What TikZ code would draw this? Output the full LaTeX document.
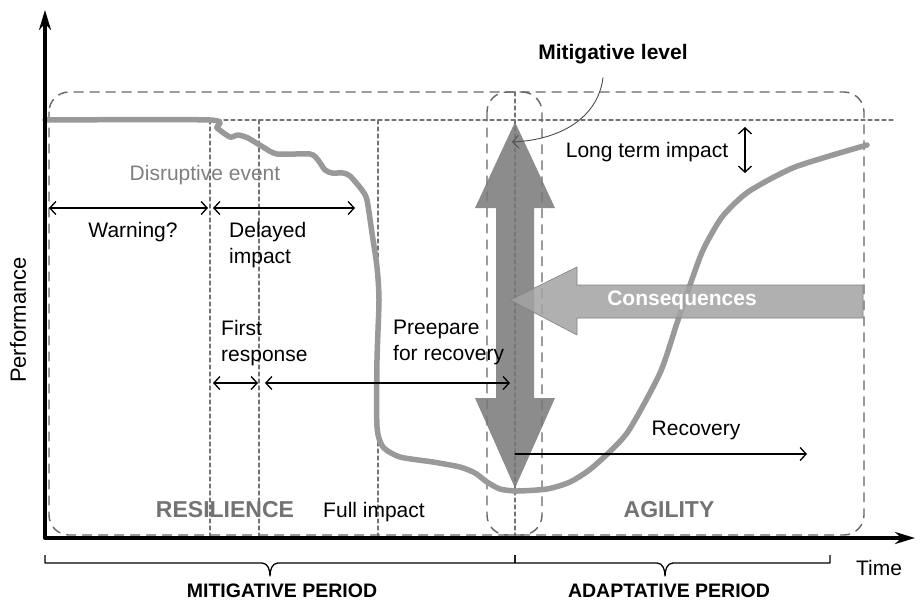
\documentclass[tikz,border=0pt]{standalone}
\usepackage{fontspec}
\setmainfont{Liberation Sans}
\usetikzlibrary{arrows.meta}
\definecolor{perfgray}{gray}{0.6}
\definecolor{mitgray}{gray}{0.47}
\definecolor{consgray}{gray}{0.64}
\begin{document}
\begin{tikzpicture}[x=1pt, y=-1pt, line join=round, line cap=round,
		font=\fontsize{21}{26}\selectfont, >={Straight Barb[length=6pt,width=13pt]},
		box/.style={draw=black!60, line width=1.4pt, dash pattern=on 9pt off 7pt, rounded corners=20pt},
		guide/.style={draw=black!55, line width=1.1pt, dash pattern=on 4pt off 3pt},
		span/.style={<->, line width=1.3pt},
		lbl/.style={anchor=base, inner sep=0pt},
		phase/.style={lbl, font=\fontsize{23}{26}\selectfont\bfseries, text=black!55},
		brc/.style={line width=1.3pt, line cap=butt}]
	\def\xo{45} \def\yo{538}
	\def\ylev{120} \def\xmit{515}
	\useasboundingbox[fill=white] (0,0) rectangle (920,603);
	% boxes and guide lines
	\draw[box] (49,92) rectangle (542,535);
	\draw[box] (487,92) rectangle (864,535);
	\draw[guide] (210,\ylev) -- (895,\ylev);
	\foreach \x in {210,259,378} \draw[guide] (\x,\ylev) -- (\x,\yo);
	\draw[guide] (\xmit,92) -- (\xmit,\yo);
	% performance curve
	\draw[perfgray, line width=5.5pt] plot[smooth, tension=0.4] coordinates {(45,120) (210,120) (217,128) (230,137) (238,135) (248,138) (263,147) (277,154) (310,154) (318,160) (325,170) (332,173) (343,173) (350,176) (362,190) (367,200) (372,233) (377,267) (379,300) (377,360) (377,427) (383,447) (400,457) (433,462) (460,467) (475,473) (487,482) (500,489) (517,491) (547,489) (570,482) (593,467) (627,433) (660,373) (677,323) (690,285) (703,250) (722,217) (748,192) (795,167) (867,145)};
	% big arrows
	\fill[mitgray, fill opacity=0.85] (\xmit,122) -- (555,208) -- (534,208) -- (534,398) -- (555,398) -- (\xmit,488)
		-- (475,398) -- (496,398) -- (496,208) -- (475,208) -- cycle;
	\filldraw[fill=consgray, draw=black!50, line width=0.6pt, fill opacity=0.85] (510,300) -- (577,267) -- (577,285) -- (863,285)
		-- (863,318) -- (577,318) -- (577,335) -- cycle;
	\node[font=\fontsize{21}{24}\selectfont\bfseries, text=white] (cons) at (682,300) {Consequences};
	% axes
	\draw[line width=4pt, {Stealth[length=20pt,width=12pt]}-{Stealth[length=20pt,width=12pt]}] (\xo,10) -- (\xo,\yo) -- (915,\yo);
	\node[rotate=90, font=\fontsize{22}{26}\selectfont] (perf) at (18,320) {Performance};
	\node[lbl] (time) at (879,575) {Time};
	% spans
	\foreach \n/\x/\y in {w0/49/208, w1/208/208, d0/213/208, d1/355/208, f0/213/383, f1/258/383, p0/265/383, p1/510/383,
		r0/515/454, r1/807/454, l0/745/127, l1/745/173, mlev/512/142}
		\coordinate (\n) at (\x,\y);
	\draw[span] (w0) -- (w1);
	\draw[span] (d0) -- (d1);
	\draw[span] (f0) -- (f1);
	\draw[span] (p0) -- (p1);
	\draw[span, -{Straight Barb[length=6pt,width=13pt]}] (r0) -- (r1);
	\draw[span] (l0) -- (l1);
	% labels
	\node[lbl, text=black!50] (disr) at (205,180) {Disruptive event};
	\node[lbl] (warn) at (133,237) {Warning?};
	\node[anchor=north west, inner sep=0pt, align=left] (delay) at (229,222) {Delayed\\impact};
	\node[anchor=north west, inner sep=0pt, align=left] (first) at (221,320) {First\\response};
	\node[anchor=north west, inner sep=0pt, align=left] (prep) at (393,320) {Preepare\\for recovery};
	\node[lbl] (recov) at (696,435) {Recovery};
	\node[lbl] (ltimp) at (647,157) {Long term impact};
	\node[lbl] (fullimp) at (374,517) {Full impact};
	\node[phase] (resil) at (225,517) {RESILIENCE};
	\node[phase] (agil) at (669,517) {AGILITY};
	\node[lbl, font=\fontsize{21}{24}\selectfont\bfseries] (mit) at (613,59) {Mitigative level};
	\draw[black!70, line width=0.9pt, ->] ([xshift=-10pt,yshift=-14pt]mit.south) .. controls (598,118) and (560,140) .. (mlev);
	% periods
	\draw[brc] (\xo,555) |- (262,563) to[out=0,in=90] (270,576) to[out=90,in=180] (278,563) -| (\xmit,555);
	\draw[brc] (\xmit,555) |- (657,563) to[out=0,in=90] (665,576) to[out=90,in=180] (673,563) -| (830,555);
	\node[lbl, font=\fontsize{19.5}{24}\selectfont\bfseries] (mitper) at (282,597) {MITIGATIVE PERIOD};
	\node[lbl, font=\fontsize{19.5}{24}\selectfont\bfseries] (adaper) at (669,597) {ADAPTATIVE PERIOD};
\end{tikzpicture}
\end{document}
